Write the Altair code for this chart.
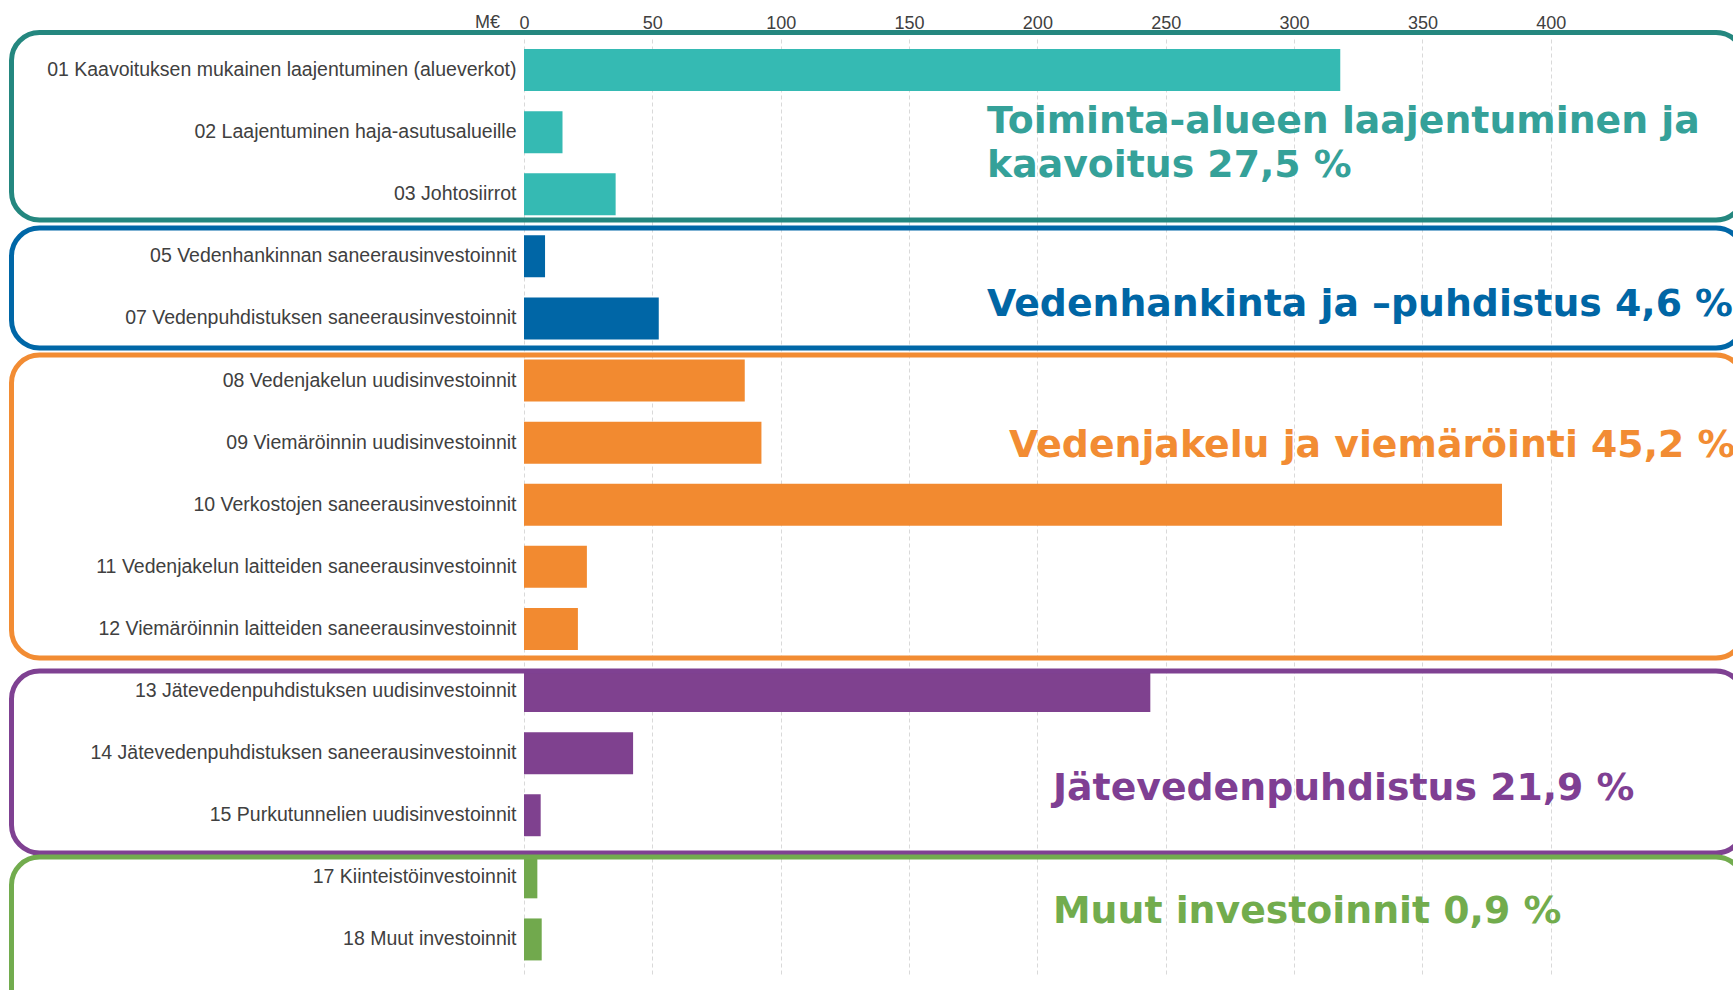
import altair as alt
import pandas as pd

# ---------------- data ----------------
categories = [
    "01 Kaavoituksen mukainen laajentuminen (alueverkot)",
    "02 Laajentuminen haja-asutusalueille",
    "03 Johtosiirrot",
    "05 Vedenhankinnan saneerausinvestoinnit",
    "07 Vedenpuhdistuksen saneerausinvestoinnit",
    "08 Vedenjakelun uudisinvestoinnit",
    "09 Viemäröinnin uudisinvestoinnit",
    "10 Verkostojen saneerausinvestoinnit",
    "11 Vedenjakelun laitteiden saneerausinvestoinnit",
    "12 Viemäröinnin laitteiden saneerausinvestoinnit",
    "13 Jätevedenpuhdistuksen uudisinvestoinnit",
    "14 Jätevedenpuhdistuksen saneerausinvestoinnit",
    "15 Purkutunnelien uudisinvestoinnit",
    "17 Kiinteistöinvestoinnit",
    "18 Muut investoinnit",
]
values_meur = [318, 15, 35.7, 8.2, 52.5, 86, 92.5, 381, 24.5, 21, 244, 42.5, 6.5, 5.2, 6.9]
category_group = ["g1", "g1", "g1", "g2", "g2", "g3", "g3", "g3", "g3", "g3",
                  "g4", "g4", "g4", "g5", "g5"]
group_ids = ["g1", "g2", "g3", "g4", "g5"]
group_labels = [
    "Toiminta-alueen laajentuminen ja\nkaavoitus 27,5 %",
    "Vedenhankinta ja \u2013puhdistus 4,6 %",
    "Vedenjakelu ja viemäröinti 45,2 %",
    "Jätevedenpuhdistus 21,9 %",
    "Muut investoinnit 0,9 %",
]
x_ticks = [0, 50, 100, 150, 200, 250, 300, 350, 400]
unit_label = "M€"

# ---------------- styles / layout ----------------
bar_colors = ["#35bab3", "#0066a6", "#f28a30", "#7f418f", "#71a94d"]
box_colors = ["#24877f", "#0067a7", "#f28c33", "#7f4192", "#72ac4e"]
text_colors = ["#35a199", "#0066a5", "#f28c33", "#7f3f93", "#72ac4d"]

PLOT_W = 1209
PLOT_H = 938
PAD_LEFT = 524
PAD_TOP = 39

# box extents (pixels, relative to plot origin)
box_y = [(-6.5, 181), (189, 309), (316, 619), (632, 814), (818, 1000)]
box_x = (-512.5, 1220)
# annotation anchor (pixels, relative to plot origin): x, baseline y
text_pos = [(463, 94), (463, 277), (485, 418), (529, 761), (529, 884)]

df = pd.DataFrame({
    "category": categories,
    "value": values_meur,
    "group": category_group,
})

bars = alt.Chart(df).mark_bar().encode(
    x=alt.X(
        "value:Q",
        scale=alt.Scale(domain=[0, 471], nice=False, zero=True),
        axis=alt.Axis(
            orient="top", values=x_ticks, grid=True, gridDash=[4, 3],
            gridColor="#d9d9d9", gridWidth=1, domain=False, ticks=False,
            labelFont="Liberation Sans", labelFontSize=18, labelColor="#404040",
            labelPadding=7, labelFlush=False, title=None,
        ),
    ),
    y=alt.Y(
        "category:N",
        sort=categories,
        scale=alt.Scale(domain=categories, paddingInner=0.324, paddingOuter=0.2145, align=0.378),
        axis=alt.Axis(
            title=None, domain=False, ticks=False, labelFont="Liberation Sans",
            labelFontSize=19.5, labelColor="#404040", labelPadding=8, labelLimit=900,
        ),
    ),
    color=alt.Color("group:N", scale=alt.Scale(domain=group_ids, range=bar_colors), legend=None),
)

layers = [bars]

for i, gid in enumerate(group_ids):
    box = alt.Chart(pd.DataFrame({"group": [gid]})).mark_rect(
        filled=False, stroke=box_colors[i], strokeWidth=5, cornerRadius=28, fillOpacity=0
    ).encode(
        x=alt.value(box_x[0]), x2=alt.value(box_x[1]),
        y=alt.value(box_y[i][0]), y2=alt.value(box_y[i][1]),
    )
    layers.append(box)

for i, gid in enumerate(group_ids):
    txt = alt.Chart(pd.DataFrame({"label": [group_labels[i]]})).mark_text(
        align="left", baseline="alphabetic", font="DejaVu Sans", fontWeight="bold",
        fontSize=37.8, color=text_colors[i], lineBreak="\n", lineHeight=43.5,
    ).encode(
        x=alt.value(text_pos[i][0]), y=alt.value(text_pos[i][1]), text="label:N",
    )
    layers.append(txt)

unit = alt.Chart(pd.DataFrame({"u": [unit_label]})).mark_text(
    align="right", baseline="bottom", font="Liberation Sans", fontSize=18, color="#404040",
).encode(x=alt.value(-24), y=alt.value(-7), text="u:N")
layers.append(unit)

chart = (
    alt.layer(*layers)
    .properties(
        width=PLOT_W, height=PLOT_H,
        autosize="none",
        padding={"left": PAD_LEFT, "top": PAD_TOP, "right": 0, "bottom": 13},
    )
    .configure(background="white")
    .configure_view(stroke=None, strokeWidth=0)
    .configure_axis(domain=False)
)

chart.save("out.html", embed_options={"renderer": "svg", "actions": False})
